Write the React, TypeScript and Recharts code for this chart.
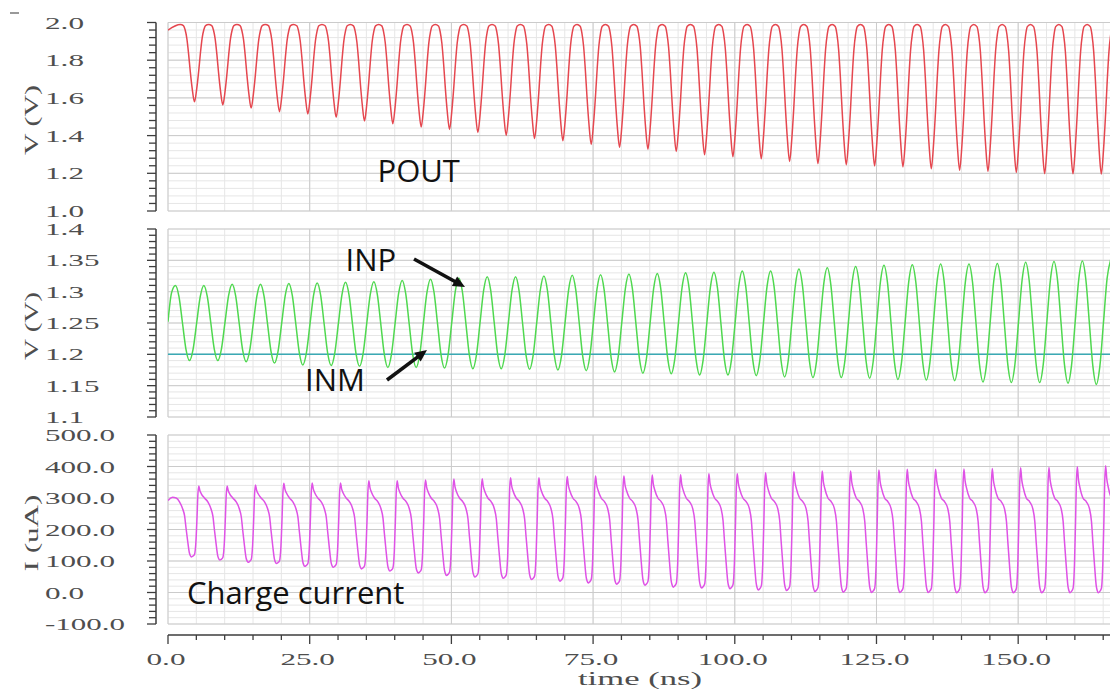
import React from 'react';
import { LineChart, Line, XAxis, YAxis, CartesianGrid } from 'recharts';

// ---------------- time base (ns) ----------------
const T_END_NS = 166.2;
const PERIOD_NS = 5.0;
const T_MINOR_STEP = 5;
const X_TICK_VALUES = [0, 25, 50, 75, 100, 125, 150];
const X_TICK_LABELS = ['0.0', '25.0', '50.0', '75.0', '100.0', '125.0', '150.0'];

// ---------------- POUT (V) ----------------
const POUT_START_V = 1.96;
const POUT_TOP_V = 1.99;
const POUT_FIRST_MIN_NS = 4.67;
const POUT_MIN_V = [
  1.579, 1.563, 1.546, 1.527, 1.515, 1.497, 1.478, 1.463, 1.446, 1.433, 1.416,
  1.401, 1.384, 1.373, 1.353, 1.338, 1.328, 1.316, 1.299, 1.288, 1.277, 1.263,
  1.251, 1.245, 1.239, 1.234, 1.224, 1.216, 1.211, 1.205, 1.198, 1.197, 1.196,
];
// one dip of POUT: distance from the trough (fraction of a period) and height (0 = trough, 1 = top)
const POUT_DIP_PHASE = [0.08, 0.15, 0.21, 0.27, 0.33, 0.39];
const POUT_DIP_LEVEL = [0.17, 0.4, 0.63, 0.82, 0.93, 0.985];

// ---------------- INP / INM (V) ----------------
const INP_START = [
  [0, 1.252],
  [0.62, 1.298],
];
const INP_FIRST_PEAK_NS = 1.32;
const INP_FIRST_TROUGH_NS = 3.79;
const INP_PEAK_V = [
  1.31, 1.31, 1.312, 1.312, 1.313, 1.314, 1.315, 1.316, 1.318, 1.32, 1.322, 1.324,
  1.324, 1.325, 1.326, 1.327, 1.328, 1.329, 1.33, 1.331, 1.333, 1.333, 1.336,
  1.338, 1.34, 1.342, 1.343, 1.344, 1.344, 1.345, 1.347, 1.348, 1.349, 1.351,
];
const INP_TROUGH_V = [
  1.19, 1.19, 1.188, 1.186, 1.183, 1.182, 1.181, 1.179, 1.179, 1.178, 1.177,
  1.177, 1.176, 1.175, 1.174, 1.172, 1.17, 1.169, 1.167, 1.167, 1.166, 1.164, 1.163,
  1.163, 1.162, 1.16, 1.159, 1.158, 1.156, 1.155, 1.155, 1.154, 1.152,
];
// shape of each swing between two extremes
const INP_EDGE_PHASE = [0.25, 0.5, 0.75];
const INP_EDGE_LEVEL = [0.15, 0.5, 0.85];
const INM_V = 1.2;

// ---------------- charge current (uA) ----------------
const CUR_START = [
  [0, 292],
  [0.8, 302],
];
const CUR_FIRST_SPIKE_NS = 5.43;
const CUR_SPIKE_UA = [
  338, 338, 341, 347, 348, 348, 355, 355, 357, 360, 361,
  364, 364, 368, 370, 370, 373, 374, 377, 377, 380, 383,
  386, 386, 389, 391, 391, 392, 394, 396, 397, 399, 402,
];
const CUR_MIN_UA = [
  113, 103, 96, 92, 83, 80, 75, 68, 62, 54, 49,
  45, 41, 36, 30, 26, 23, 17, 14, 12, 8, 6, 3,
  1, 0, 0, 0, -1, -1, -1, -1, -1, -1,
];
// phases are fractions of a period after a spike
const CUR_DECAY_PHASE = [0.04, 0.09];
const CUR_DECAY_LEVEL = [0.6, 0.35];
const CUR_SHOULDER_PHASE = [0.2, 0.32, 0.43];
const CUR_SHOULDER_UA = [300, 288, 266];
const CUR_FALL_PHASE = [0.5, 0.55, 0.61, 0.67, 0.7, 0.742];
const CUR_FALL_LEVEL = [0.85, 0.6, 0.32, 0.08, 0.03, 0];
const CUR_RISE_PHASE = [0.79, 0.85, 0.9, 0.94, 0.966];
const CUR_RISE_LEVEL = [0.01, 0.035, 0.22, 0.58, 0.86];

// ---------------- axis labels ----------------
const POUT_Y_VALUES = [1.0, 1.2, 1.4, 1.6, 1.8, 2.0];
const POUT_Y_LABELS = ['1.0', '1.2', '1.4', '1.6', '1.8', '2.0'];
const IN_Y_VALUES = [1.1, 1.15, 1.2, 1.25, 1.3, 1.35, 1.4];
const IN_Y_LABELS = ['1.1', '1.15', '1.2', '1.25', '1.3', '1.35', '1.4'];
const CUR_Y_VALUES = [-100, 0, 100, 200, 300, 400, 500];
const CUR_Y_LABELS = ['-100.0', '0.0', '100.0', '200.0', '300.0', '400.0', '500.0'];

// ---------------- build the series tables ----------------
type Pt = { t: number; v: number };

function buildPout(): Pt[] {
  const out: Pt[] = [{ t: 0, v: POUT_START_V }];
  POUT_MIN_V.forEach((vmin, k) => {
    const tm = POUT_FIRST_MIN_NS + k * PERIOD_NS;
    const lvl = (n: number) => vmin + (POUT_TOP_V - vmin) * n;
    if (k === 0) out.push({ t: tm - PERIOD_NS / 2, v: POUT_TOP_V });
    for (let i = POUT_DIP_PHASE.length - 1; i >= 0; i--) {
      out.push({ t: tm - POUT_DIP_PHASE[i] * PERIOD_NS, v: lvl(POUT_DIP_LEVEL[i]) });
    }
    out.push({ t: tm, v: vmin });
    POUT_DIP_PHASE.forEach((ph, i) => out.push({ t: tm + ph * PERIOD_NS, v: lvl(POUT_DIP_LEVEL[i]) }));
    out.push({ t: tm + PERIOD_NS / 2, v: POUT_TOP_V });
  });
  return out;
}

function buildInp(): Pt[] {
  const extremes: Pt[] = [];
  INP_PEAK_V.forEach((vp, k) => {
    extremes.push({ t: INP_FIRST_PEAK_NS + k * PERIOD_NS, v: vp });
    if (k < INP_TROUGH_V.length) {
      extremes.push({ t: INP_FIRST_TROUGH_NS + k * PERIOD_NS, v: INP_TROUGH_V[k] });
    }
  });
  const out: Pt[] = INP_START.map(([t, v]) => ({ t, v }));
  extremes.forEach((a, i) => {
    out.push(a);
    const b = extremes[i + 1];
    if (!b) return;
    INP_EDGE_PHASE.forEach((f, j) => {
      out.push({ t: a.t + f * (b.t - a.t), v: a.v + (b.v - a.v) * INP_EDGE_LEVEL[j] });
    });
  });
  return out;
}

function buildInm(): Pt[] {
  return [
    { t: 0, v: INM_V },
    { t: T_END_NS, v: INM_V },
  ];
}

function buildCurrent(): Pt[] {
  const out: Pt[] = CUR_START.map(([t, v]) => ({ t, v }));
  const shoulderTop = CUR_SHOULDER_UA[CUR_SHOULDER_UA.length - 1];
  for (let c = -1; c < CUR_SPIKE_UA.length; c++) {
    const ts = CUR_FIRST_SPIKE_NS + c * PERIOD_NS;
    if (c >= 0) {
      const sp = CUR_SPIKE_UA[c];
      out.push({ t: ts, v: sp });
      CUR_DECAY_PHASE.forEach((ph, i) =>
        out.push({ t: ts + ph * PERIOD_NS, v: CUR_SHOULDER_UA[0] + (sp - CUR_SHOULDER_UA[0]) * CUR_DECAY_LEVEL[i] })
      );
    }
    CUR_SHOULDER_PHASE.forEach((ph, i) => out.push({ t: ts + ph * PERIOD_NS, v: CUR_SHOULDER_UA[i] }));
    const next = c + 1;
    if (next < CUR_SPIKE_UA.length) {
      const m = CUR_MIN_UA[next];
      const sp2 = CUR_SPIKE_UA[next];
      CUR_FALL_PHASE.forEach((ph, i) =>
        out.push({ t: ts + ph * PERIOD_NS, v: m + (shoulderTop - m) * CUR_FALL_LEVEL[i] })
      );
      CUR_RISE_PHASE.forEach((ph, i) =>
        out.push({ t: ts + ph * PERIOD_NS, v: m + (sp2 - m) * CUR_RISE_LEVEL[i] })
      );
    }
  }
  return out;
}

const POUT_DATA = buildPout();
const INP_DATA = buildInp();
const INM_DATA = buildInm();
const CUR_DATA = buildCurrent();

// ---------------- layout & style ----------------
const W = 1112;
const H = 689;
const PLOT_LEFT = 168;
const PLOT_RIGHT = 1110;
const PLOT_W = PLOT_RIGHT - PLOT_LEFT;
const Y_AXIS_W = 160;
const X_AXIS_H = 60;

const AXIS_COLOR = '#3d3d3d';
const LABEL_COLOR = '#4e4e4e';
const SERIF = '"Liberation Serif", "DejaVu Serif", serif';
const SANS = '"Open Sans", "Noto Sans", sans-serif';
const GRID_MINOR = '#e6e6e6';
const GRID_MAJOR = '#cbcbcb';

function makeTicks(lo: number, hi: number, step: number): number[] {
  const n = Math.round((hi - lo) / step);
  return Array.from({ length: n + 1 }, (_, i) => +(lo + i * step).toFixed(4));
}

const T_MINOR = makeTicks(0, 165, T_MINOR_STEP);

// stretched serif labels, as on a waveform viewer
function labelLength(s: string): number {
  let w = 0;
  for (const ch of s) w += ch === '.' ? 8 : ch === '-' ? 10 : 15.5;
  return w;
}

const same = (a: number, b: number) => Math.abs(a - b) < 1e-6;

function makeYTick(values: number[], labels: string[], lo: number, plotH: number) {
  return (p: any) => {
    const { x, y, payload } = p;
    const v = payload.value;
    const idx = values.findIndex((m) => same(m, v));
    const ax = x - 12;
    return (
      <g>
        {same(v, lo) && (
          <line x1={ax} x2={ax} y1={y} y2={y - plotH} stroke={AXIS_COLOR} strokeWidth={1.5} />
        )}
        <line x1={ax - (idx >= 0 ? 9 : 7)} x2={ax} y1={y} y2={y} stroke={AXIS_COLOR} strokeWidth={1.3} />
        {idx >= 0 && (
          <text
            x={x - 123}
            y={y + 6}
            fontFamily={SERIF}
            fontSize={17.5}
            fill={LABEL_COLOR}
            textLength={labelLength(labels[idx])}
            lengthAdjust="spacingAndGlyphs"
          >
            {labels[idx]}
          </text>
        )}
      </g>
    );
  };
}

function XTick(p: any) {
  const { x, y, payload } = p;
  const v = payload.value;
  const idx = X_TICK_VALUES.findIndex((m) => same(m, v));
  const ay = y + 11;
  return (
    <g>
      {same(v, 0) && <line x1={x} x2={x + PLOT_W} y1={ay} y2={ay} stroke={AXIS_COLOR} strokeWidth={1.5} />}
      <line x1={x} x2={x} y1={ay} y2={ay + (idx >= 0 ? 9 : 5)} stroke={AXIS_COLOR} strokeWidth={1.3} />
      {idx >= 0 && (
        <text
          x={x - 2}
          y={y + 41}
          textAnchor="middle"
          fontFamily={SERIF}
          fontSize={17.5}
          fill={LABEL_COLOR}
          textLength={labelLength(X_TICK_LABELS[idx])}
          lengthAdjust="spacingAndGlyphs"
        >
          {X_TICK_LABELS[idx]}
        </text>
      )}
    </g>
  );
}

type SeriesSpec = { data: Pt[]; color: string; name: string; curve?: 'monotone' | 'linear' };

type PanelProps = {
  top: number;
  bottom: number;
  lo: number;
  hi: number;
  minorStep: number;
  majorValues: number[];
  majorLabels: string[];
  series: SeriesSpec[];
  showX: boolean;
};

function Panel({ top, bottom, lo, hi, minorStep, majorValues, majorLabels, series, showX }: PanelProps) {
  const minorY = makeTicks(lo, hi, minorStep);
  const plotH = bottom - top;
  return (
    <div style={{ position: 'absolute', left: 0, top: 0 }}>
      <LineChart
        width={W}
        height={H}
        margin={{
          top,
          right: W - PLOT_RIGHT,
          bottom: H - bottom - (showX ? X_AXIS_H : 0),
          left: PLOT_LEFT - Y_AXIS_W,
        }}
      >
        <CartesianGrid horizontalValues={minorY} verticalValues={T_MINOR} stroke={GRID_MINOR} strokeWidth={1} />
        <CartesianGrid horizontalValues={majorValues} verticalValues={X_TICK_VALUES} stroke={GRID_MAJOR} strokeWidth={1} />
        <XAxis
          type="number"
          dataKey="t"
          domain={[0, T_END_NS]}
          allowDataOverflow
          hide={!showX}
          height={showX ? X_AXIS_H : 0}
          ticks={T_MINOR}
          interval={0}
          tick={XTick}
          axisLine={false}
          tickLine={false}
          tickSize={0}
          tickMargin={0}
        />
        <YAxis
          type="number"
          domain={[lo, hi]}
          allowDataOverflow
          ticks={minorY}
          interval={0}
          width={Y_AXIS_W}
          tick={makeYTick(majorValues, majorLabels, lo, plotH)}
          axisLine={false}
          tickLine={false}
          tickSize={0}
          tickMargin={0}
        />
        {series.map((s) => (
          <Line
            key={s.name}
            name={s.name}
            data={s.data}
            dataKey="v"
            type={s.curve ?? 'monotone'}
            stroke={s.color}
            strokeWidth={1.5}
            dot={false}
            activeDot={false}
            isAnimationActive={false}
          />
        ))}
      </LineChart>
    </div>
  );
}

function Arrow({ x1, y1, x2, y2 }: { x1: number; y1: number; x2: number; y2: number }) {
  const head = 12;
  const half = 5.5;
  const dx = x2 - x1;
  const dy = y2 - y1;
  const len = Math.hypot(dx, dy);
  const ux = dx / len;
  const uy = dy / len;
  const bx = x2 - ux * head;
  const by = y2 - uy * head;
  return (
    <g>
      <line x1={x1} y1={y1} x2={bx + ux} y2={by + uy} stroke="#111" strokeWidth={3.6} />
      <polygon
        points={`${x2},${y2} ${bx - uy * half},${by + ux * half} ${bx + uy * half},${by - ux * half}`}
        fill="#111"
      />
    </g>
  );
}

function AxisTitle({ cx, cy, text, len }: { cx: number; cy: number; text: string; len: number }) {
  return (
    <text
      x={cx}
      y={cy}
      transform={`rotate(-90 ${cx} ${cy})`}
      textAnchor="middle"
      dominantBaseline="central"
      fontFamily={SERIF}
      fontSize={18}
      fill={LABEL_COLOR}
      textLength={len}
      lengthAdjust="spacingAndGlyphs"
    >
      {text}
    </text>
  );
}

export default function App() {
  return (
    <div
      style={{
        position: 'absolute',
        left: 0,
        top: 0,
        width: W,
        height: H,
        background: '#ffffff',
        overflow: 'hidden',
      }}
    >
      <Panel
        top={22.5}
        bottom={211}
        lo={1.0}
        hi={2.0}
        minorStep={0.04}
        majorValues={POUT_Y_VALUES}
        majorLabels={POUT_Y_LABELS}
        series={[{ data: POUT_DATA, color: '#e5474f', name: 'POUT' }]}
        showX={false}
      />
      <Panel
        top={229}
        bottom={417}
        lo={1.1}
        hi={1.4}
        minorStep={0.01}
        majorValues={IN_Y_VALUES}
        majorLabels={IN_Y_LABELS}
        series={[
          { data: INM_DATA, color: '#3aa9b4', name: 'INM', curve: 'linear' },
          { data: INP_DATA, color: '#4fd84f', name: 'INP' },
        ]}
        showX={false}
      />
      <Panel
        top={435}
        bottom={624}
        lo={-100}
        hi={500}
        minorStep={20}
        majorValues={CUR_Y_VALUES}
        majorLabels={CUR_Y_LABELS}
        series={[{ data: CUR_DATA, color: '#df52e6', name: 'Charge current' }]}
        showX={true}
      />
      <svg
        width={W}
        height={H}
        style={{ position: 'absolute', left: 0, top: 0, pointerEvents: 'none' }}
      >
        <line x1={10} x2={19} y1={13} y2={13} stroke="#555" strokeWidth={1.2} />
        <AxisTitle cx={32} cy={120} text="V (V)" len={70} />
        <AxisTitle cx={32} cy={326} text="V (V)" len={68} />
        <AxisTitle cx={32} cy={533} text="I (uA)" len={77} />
        <text
          x={640}
          y={685}
          textAnchor="middle"
          fontFamily={SERIF}
          fontSize={19}
          fill={LABEL_COLOR}
          textLength={124}
          lengthAdjust="spacingAndGlyphs"
        >
          time (ns)
        </text>
        <g fontFamily={SANS} fontSize={31} fill="#111">
          <text x={377.5} y={182}>POUT</text>
          <text x={345.5} y={271}>INP</text>
          <text x={305} y={391}>INM</text>
          <text x={187} y={604}>Charge current</text>
        </g>
        <Arrow x1={414} y1={259} x2={465} y2={287} />
        <Arrow x1={387} y1={380} x2={427} y2={350} />
      </svg>
    </div>
  );
}
